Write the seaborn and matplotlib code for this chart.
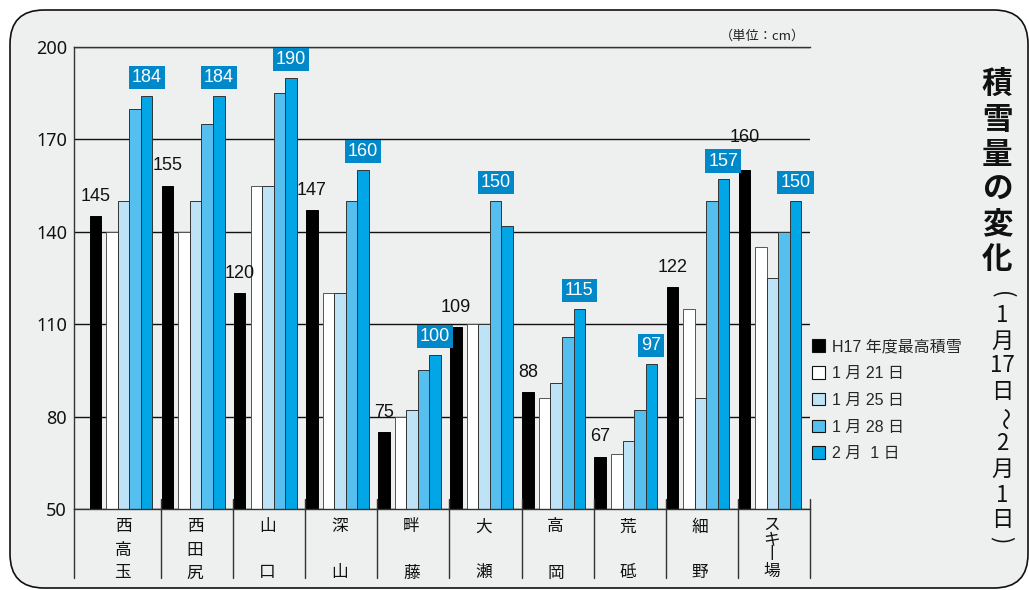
import matplotlib
matplotlib.use("Agg")
import matplotlib.pyplot as plt
import matplotlib.transforms as mtransforms
from matplotlib import font_manager
from matplotlib.patches import FancyBboxPatch, Patch
import numpy as np
import pandas as pd
import seaborn as sns

# snow depth per site (cm)
sites = ["西高玉", "西田尻", "山口", "深山", "畔藤", "大瀬", "高岡", "荒砥", "細野", "スキー場"]
h17_max = [145, 155, 120, 147, 75, 109, 88, 67, 122, 160]
jan21 = [140, 140, 155, 120, 80, 110, 86, 68, 115, 135]
jan25 = [150, 150, 155, 120, 82, 110, 91, 72, 86, 125]
jan28 = [180, 175, 185, 150, 95, 150, 106, 82, 150, 140]
feb01 = [184, 184, 190, 160, 100, 142, 115, 97, 157, 150]
series_labels = ["H17 年度最高積雪", "1 月 21 日", "1 月 25 日", "1 月 28 日", "2 月  1 日"]
yticks = [50, 80, 110, 140, 170, 200]

title = "積雪量の変化"
subtitle = ["(", "1", "月", "17", "日", "～", "2", "月", "1", "日", ")"]
unit_text = "（単位：cm）"

sns.set_style("white")
installed = {f.name for f in font_manager.fontManager.ttflist}
NARROW = "Liberation Sans Narrow" if "Liberation Sans Narrow" in installed else "Liberation Sans"
JP = "Noto Sans CJK JP"
plt.rcParams["font.family"] = [NARROW, JP, "DejaVu Sans"]

W, H = 1029, 590
fig = plt.figure(figsize=(W / 100, H / 100), dpi=100, facecolor="white")


def fx(px):
    return px / W


def fy(py):
    return 1 - py / H


# rounded grey panel behind everything
panel = FancyBboxPatch((10, 2), 1018, 578, boxstyle="round,pad=0,rounding_size=34",
                       transform=mtransforms.IdentityTransform(),
                       fc="#eef0ef", ec="#111111", lw=1.2, zorder=0)
fig.add_artist(panel)

ax = fig.add_axes([fx(74), fy(509), (810 - 74) / W, (509 - 47) / H])
ax.patch.set_alpha(0)

series = [h17_max, jan21, jan25, jan28, feb01]
offsets = [-0.41, -0.18, -0.02, 0.14, 0.30]
colors = ["#000000", "#ffffff", "#bee3f7", "#55c0ef", "#00a6e6"]
edges = ["#000000", "#555555", "#333333", "#333333", "#333333"]
idx = np.arange(len(sites))

for vals, off, c, e in zip(series, offsets, colors, edges):
    df = pd.DataFrame({"pos": idx + off, "cm": vals})
    sns.barplot(data=df, x="pos", y="cm", native_scale=True, width=0.16,
                color=c, saturation=1, edgecolor=e, linewidth=0.7,
                errorbar=None, ax=ax, zorder=2)

xmin, xmax = -0.708, 9.5
ax.set_xlim(xmin, xmax)
ax.set_ylim(50, 200)
ax.set_xlabel("")
ax.set_ylabel("")
ax.set_xticks([])
ax.set_yticks(yticks)
ax.set_yticklabels([str(t) for t in yticks], fontsize=13, family="Noto Sans", color="#111")
ax.tick_params(axis="y", length=0, pad=5)
ax.yaxis.grid(True, color="#111111", lw=1)
ax.set_axisbelow(True)
ax.spines["right"].set_visible(False)
for s in ["left", "bottom", "top"]:
    ax.spines[s].set_color("#333333")
    ax.spines[s].set_linewidth(1)

# separators below the axis between sites
trans = mtransforms.blended_transform_factory(ax.transData, ax.transAxes)
ax_h = 509 - 47
ax.plot([xmin, xmin], [-69 / ax_h, 0], transform=trans, color="#333", lw=1, clip_on=False)
for b in idx + 0.5:
    ax.plot([b, b], [-69 / ax_h, 10 / ax_h], transform=trans, color="#333", lw=1, clip_on=False)

# vertical site names
vert = {"ー": "丨"}
for i, name in enumerate(sites):
    chars = [vert.get(ch, ch) for ch in name]
    if len(chars) == 4:
        rows = [16, 31, 46, 62]
    elif len(chars) == 3:
        rows = [18, 41, 64]
    else:
        rows = [18, 64]
    for ch, r in zip(chars, rows):
        ax.annotate(ch, (i - 0.03, 0), xycoords=trans, xytext=(0, -r * 0.72),
                    textcoords="offset points", ha="center", va="center",
                    fontsize=12, family=JP, color="#111", annotation_clip=False)

# H17 max values in plain text (the last one sits higher to clear the blue box)
lift = {9: 13}
for i, v in enumerate(h17_max):
    ax.annotate(str(v), (i + offsets[0], v), xytext=(0, 11 + lift.get(i, 0) * 0.72),
                textcoords="offset points", ha="center", va="baseline",
                fontsize=13, color="#111")

# highest of the recent readings in a blue box
recent = np.array([jan21, jan25, jan28, feb01])
for i in idx:
    k = int(np.argmax(recent[:, i]))
    v = recent[k, i]
    ax.annotate(str(v), (i + offsets[k + 1], v), xytext=(0, 10), textcoords="offset points",
                ha="center", va="baseline", fontsize=13, color="white",
                bbox=dict(boxstyle="square,pad=0.17", fc="#0088c9", ec="none"))

handles = [Patch(fc=c, ec="#111111", lw=0.8) for c in colors]
fig.legend(handles, series_labels, loc="upper left", bbox_to_anchor=(fx(812), fy(339)),
           frameon=False, fontsize=11.5, handlelength=0.8, handleheight=0.85,
           handletextpad=0.45, labelspacing=0.74, borderpad=0, borderaxespad=0)

fig.text(fx(762), fy(36), unit_text, ha="center", va="center", fontsize=9.5, family=JP, color="#222")

# vertical title on the right
for ch, y in zip(title, [85, 120, 155, 190, 225, 259]):
    fig.text(fx(997), fy(y), ch, ha="center", va="center", fontsize=22,
             fontweight="bold", family=JP, color="#111")
sub_y = [295, 316, 341, 366, 392, 418, 444, 469, 495, 520, 540]
for ch, y in zip(subtitle, sub_y):
    rot = -90 if ch in "(～)" else 0
    fig.text(fx(1002), fy(y), ch, ha="center", va="center", fontsize=16,
             family=JP, color="#111", rotation=rot)

fig.savefig("out.png", dpi=100, facecolor="white")
